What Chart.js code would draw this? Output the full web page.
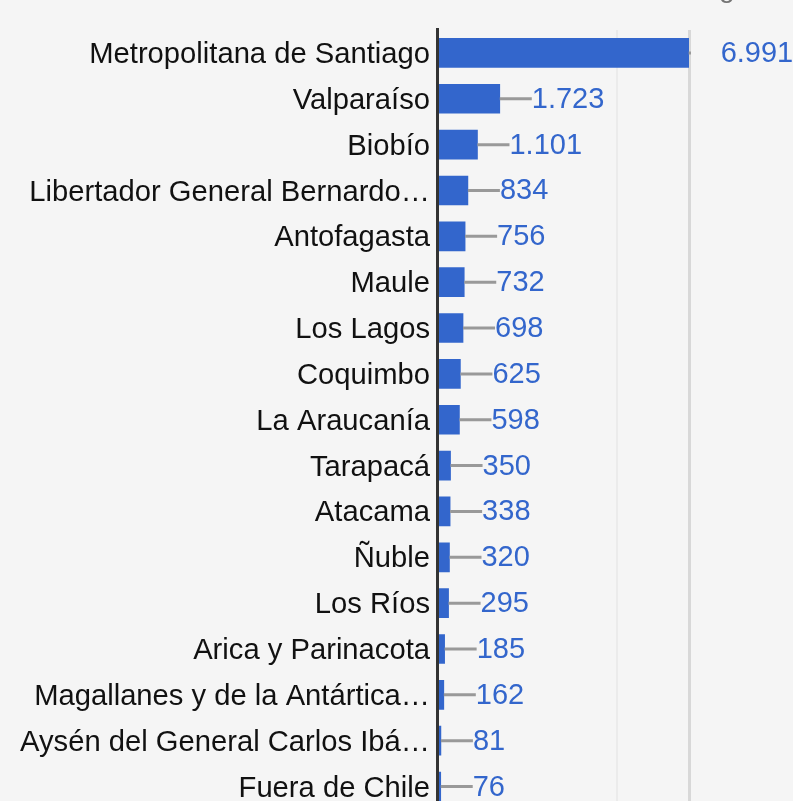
<!DOCTYPE html>
<html>
<head>
<meta charset="utf-8">
<script src="https://cdn.jsdelivr.net/npm/chart.js@4/dist/chart.umd.min.js"></script>
<style>
  html, body { margin: 0; padding: 0; background: #f5f5f5; overflow: hidden; }
  #wrap { position: relative; width: 793px; height: 827px; }
  #cut { position: absolute; left: 719px; top: -26px; font: 28px "Liberation Sans", Arial, sans-serif; line-height: 1; color: #757575; }
</style>
</head>
<body>
<div id="wrap">
  <span id="cut">g</span>
  <canvas id="chart" width="793" height="827"></canvas>
</div>
<script>
  // Regions (labels as shown, already truncated in the picture)
  const regions = [
    "Metropolitana de Santiago",
    "Valparaíso",
    "Biobío",
    "Libertador General Bernardo…",
    "Antofagasta",
    "Maule",
    "Los Lagos",
    "Coquimbo",
    "La Araucanía",
    "Tarapacá",
    "Atacama",
    "Ñuble",
    "Los Ríos",
    "Arica y Parinacota",
    "Magallanes y de la Antártica…",
    "Aysén del General Carlos Ibá…",
    "Fuera de Chile"
  ];
  const counts = [6991, 1723, 1101, 834, 756, 732, 698, 625, 598, 350, 338, 320, 295, 185, 162, 81, 76];
  const gridValues = [5000, 7000];

  const FONT = '"Liberation Sans", Arial, sans-serif';
  const BLUE = "#3366cc";

  // es-CL style thousands separator
  const fmt = (v) => String(v).replace(/\B(?=(\d{3})+(?!\d))/g, ".");

  const valueLabels = {
    id: "valueLabels",
    afterDatasetsDraw(chart) {
      const { ctx, chartArea } = chart;
      const meta = chart.getDatasetMeta(0);
      const zeroX = chart.scales.x.getPixelForValue(0);

      meta.data.forEach((bar, i) => {
        const x = bar.x, y = bar.y;
        // leader line, clipped to plot area
        ctx.save();
        ctx.beginPath();
        ctx.rect(chartArea.left, chartArea.top, chartArea.right - chartArea.left + 2, chartArea.bottom - chartArea.top);
        ctx.clip();
        ctx.strokeStyle = "#999999";
        ctx.lineWidth = 3;
        ctx.beginPath();
        ctx.moveTo(x, y);
        ctx.lineTo(x + 32, y);
        ctx.stroke();
        ctx.restore();

        ctx.save();
        ctx.fillStyle = BLUE;
        ctx.font = "29px " + FONT;
        ctx.textBaseline = "middle";
        ctx.textAlign = "left";
        ctx.fillText(fmt(counts[i]), x + 32, y + 1);
        ctx.restore();
      });

      // baseline at zero
      ctx.save();
      ctx.strokeStyle = "#333333";
      ctx.lineWidth = 3;
      ctx.beginPath();
      ctx.moveTo(zeroX - 0.5, chartArea.top - 2);
      ctx.lineTo(zeroX - 0.5, chartArea.bottom);
      ctx.stroke();
      ctx.restore();
    }
  };

  new Chart(document.getElementById("chart"), {
    type: "bar",
    data: {
      labels: regions,
      datasets: [{
        data: counts,
        backgroundColor: BLUE,
        borderWidth: 0,
        barThickness: 29
      }]
    },
    options: {
      indexAxis: "y",
      responsive: false,
      animation: false,
      layout: { padding: { top: 30, right: 104, left: 0, bottom: 0 } },
      plugins: {
        legend: { display: false },
        tooltip: { enabled: false }
      },
      scales: {
        x: {
          min: 0,
          max: 7000,
          afterBuildTicks: (scale) => { scale.ticks = gridValues.map(v => ({ value: v })); },
          afterFit: (scale) => { scale.height = 0; },
          ticks: { display: false },
          border: { display: false },
          grid: {
            drawTicks: false,
            color: (c) => c.tick && c.tick.value === 7000 ? "#d8d8d8" : "#ebebeb",
            lineWidth: (c) => c.tick && c.tick.value === 7000 ? 3 : 2
          }
        },
        y: {
          afterFit: (scale) => { scale.width = 438; },
          border: { display: false },
          grid: { display: false },
          ticks: {
            color: "#111111",
            padding: 0,
            labelOffset: 2,
            autoSkip: false,
            font: { family: FONT, size: 29.2 }
          }
        }
      }
    },
    plugins: [valueLabels]
  });
</script>
</body>
</html>
